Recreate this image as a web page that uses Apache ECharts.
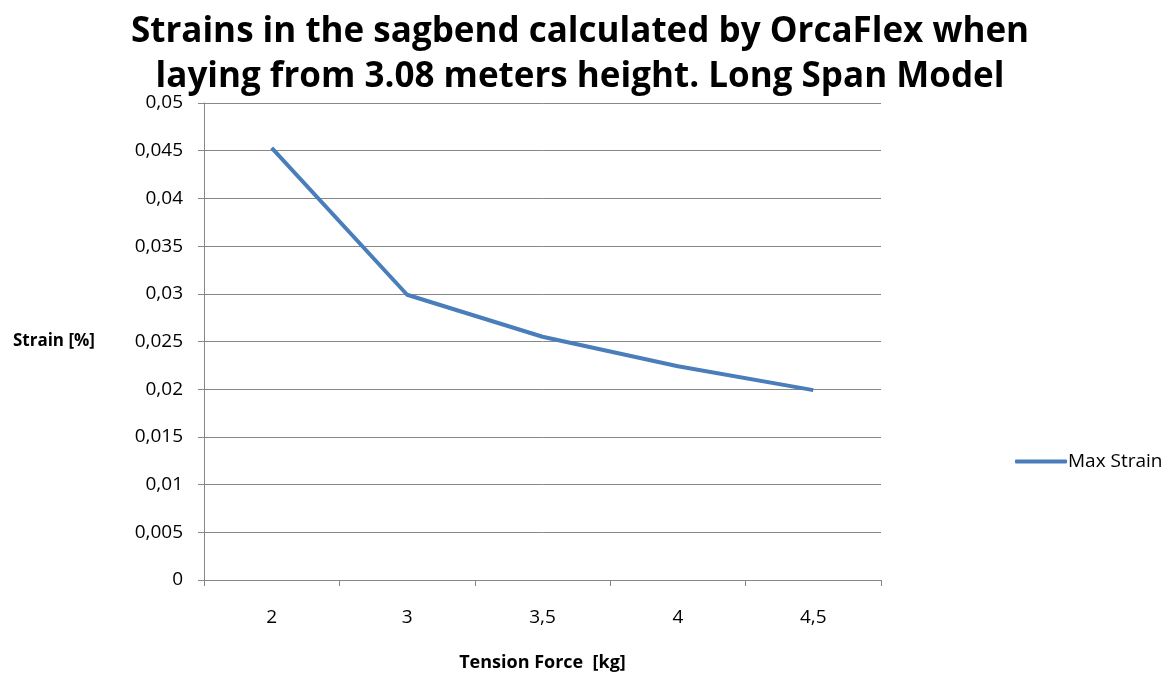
<!DOCTYPE html>
<html><head><meta charset="utf-8">
<script src="https://cdn.jsdelivr.net/npm/echarts@6/dist/echarts.min.js"></script>
<style>html,body{margin:0;padding:0;background:#fff}#c{width:1173px;height:680px}</style>
</head><body><div id="c"></div>
<script>
const categories = ['2', '3', '3,5', '4', '4,5'];
const maxStrain = [0.0453, 0.0299, 0.0255, 0.0224, 0.0199];
const seriesName = 'Max Strain';

const chart = echarts.init(document.getElementById('c'));
const font = '"Open Sans", "DejaVu Sans", sans-serif';
chart.setOption({
  animation: false,
  title: {
    text: 'Strains in the sagbend calculated by OrcaFlex when\nlaying from 3.08 meters height. Long Span Model',
    left: 575, top: 5, textAlign: 'center',
    textStyle: { fontFamily: font, fontSize: 35, fontWeight: 'bold', color: '#000', lineHeight: 45 }
  },
  legend: {
    left: 1010, top: 447, orient: 'vertical',
    itemWidth: 52, itemHeight: 4, itemGap: 4,
    icon: 'roundRect',
    textStyle: { fontFamily: font, fontSize: 19, color: '#000', padding: [0,0,0,-4] },
    data: [seriesName]
  },
  grid: { left: 204, right: 292, top: 103, bottom: 100, outerBoundsMode: 'none', containLabel: false },
  xAxis: {
    type: 'category', data: categories, boundaryGap: true,
    name: 'Tension Force  [kg]', nameLocation: 'middle', nameGap: 74,
    nameTextStyle: { fontFamily: font, fontSize: 18, fontWeight: 'bold', color: '#000' },
    axisLine: { lineStyle: { color: '#878787', width: 1 } },
    axisTick: { show: true, length: 6, lineStyle: { color: '#878787' } },
    axisLabel: { fontFamily: font, fontSize: 19, color: '#000', margin: 28 }
  },
  yAxis: {
    type: 'value', min: 0, max: 0.05, interval: 0.005,
    name: 'Strain [%]', nameLocation: 'middle', nameGap: 109, nameRotate: 0,
    nameTextStyle: { fontFamily: font, fontSize: 17, fontWeight: 'bold', color: '#000' },
    axisLine: { show: true, lineStyle: { color: '#878787', width: 1 } },
    axisTick: { show: true, length: 6, lineStyle: { color: '#878787' } },
    splitLine: { lineStyle: { color: '#878787', width: 1 } },
    axisLabel: {
      fontFamily: font, fontSize: 19, color: '#000', margin: 21,
      formatter: v => (Math.round(v * 1000) / 1000).toString().replace('.', ',')
    }
  },
  series: [{
    name: seriesName, type: 'line', data: maxStrain,
    symbol: 'none', lineStyle: { color: '#4a7ebb', width: 4 },
    itemStyle: { color: '#4a7ebb' }
  }]
});
</script></body></html>
